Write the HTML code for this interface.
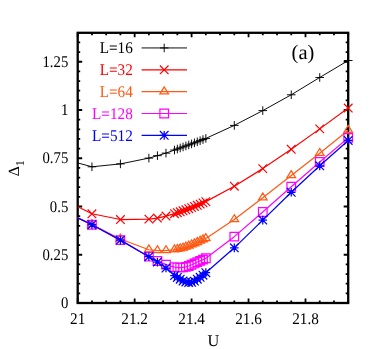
<!DOCTYPE html>
<html><head><meta charset="utf-8"><title>chart</title>
<style>html,body{margin:0;padding:0;background:#fff;}body{width:374px;height:349px;overflow:hidden;font-family:"Liberation Serif",serif;}svg{display:block;will-change:transform}text{text-rendering:geometricPrecision}</style>
</head><body>
<svg width="374" height="349" viewBox="0 0 374 349">
<rect width="374" height="349" fill="#fff"/>
<rect x="77.7" y="32.8" width="270.5" height="270.2" fill="none" stroke="#000" stroke-width="2.3"/>
<path d="M77.70 303.0v-4.5M77.70 32.8v4.5M91.94 303.0v-2.5M91.94 32.8v2.5M106.17 303.0v-2.5M106.17 32.8v2.5M120.41 303.0v-2.5M120.41 32.8v2.5M134.65 303.0v-4.5M134.65 32.8v4.5M148.88 303.0v-2.5M148.88 32.8v2.5M163.12 303.0v-2.5M163.12 32.8v2.5M177.36 303.0v-2.5M177.36 32.8v2.5M191.59 303.0v-4.5M191.59 32.8v4.5M205.83 303.0v-2.5M205.83 32.8v2.5M220.07 303.0v-2.5M220.07 32.8v2.5M234.31 303.0v-2.5M234.31 32.8v2.5M248.54 303.0v-4.5M248.54 32.8v4.5M262.78 303.0v-2.5M262.78 32.8v2.5M277.02 303.0v-2.5M277.02 32.8v2.5M291.25 303.0v-2.5M291.25 32.8v2.5M305.49 303.0v-4.5M305.49 32.8v4.5M319.73 303.0v-2.5M319.73 32.8v2.5M333.96 303.0v-2.5M333.96 32.8v2.5M348.20 303.0v-2.5M348.20 32.8v2.5M77.7 303.00h4.5M348.2 303.00h-4.5M77.7 293.35h2.5M348.2 293.35h-2.5M77.7 283.70h2.5M348.2 283.70h-2.5M77.7 274.05h2.5M348.2 274.05h-2.5M77.7 264.40h2.5M348.2 264.40h-2.5M77.7 254.75h4.5M348.2 254.75h-4.5M77.7 245.10h2.5M348.2 245.10h-2.5M77.7 235.45h2.5M348.2 235.45h-2.5M77.7 225.80h2.5M348.2 225.80h-2.5M77.7 216.15h2.5M348.2 216.15h-2.5M77.7 206.50h4.5M348.2 206.50h-4.5M77.7 196.85h2.5M348.2 196.85h-2.5M77.7 187.20h2.5M348.2 187.20h-2.5M77.7 177.55h2.5M348.2 177.55h-2.5M77.7 167.90h2.5M348.2 167.90h-2.5M77.7 158.25h4.5M348.2 158.25h-4.5M77.7 148.60h2.5M348.2 148.60h-2.5M77.7 138.95h2.5M348.2 138.95h-2.5M77.7 129.30h2.5M348.2 129.30h-2.5M77.7 119.65h2.5M348.2 119.65h-2.5M77.7 110.00h4.5M348.2 110.00h-4.5M77.7 100.35h2.5M348.2 100.35h-2.5M77.7 90.70h2.5M348.2 90.70h-2.5M77.7 81.05h2.5M348.2 81.05h-2.5M77.7 71.40h2.5M348.2 71.40h-2.5M77.7 61.75h4.5M348.2 61.75h-4.5M77.7 52.10h2.5M348.2 52.10h-2.5M77.7 42.45h2.5M348.2 42.45h-2.5M77.7 32.80h2.5M348.2 32.80h-2.5" stroke="#000" stroke-width="1.8" fill="none"/>
<clipPath id="c"><rect x="77.7" y="32.8" width="270.5" height="270.2"/></clipPath>
<g font-family="Liberation Serif, serif" font-size="15" fill="#000">
<text transform="translate(77.70 324.30) scale(0.935 1)" text-anchor="middle" font-size="16.3" fill="#000">21</text>
<text transform="translate(134.65 324.30) scale(0.935 1)" text-anchor="middle" font-size="16.3" fill="#000">21.2</text>
<text transform="translate(191.59 324.30) scale(0.935 1)" text-anchor="middle" font-size="16.3" fill="#000">21.4</text>
<text transform="translate(248.54 324.30) scale(0.935 1)" text-anchor="middle" font-size="16.3" fill="#000">21.6</text>
<text transform="translate(305.49 324.30) scale(0.935 1)" text-anchor="middle" font-size="16.3" fill="#000">21.8</text>
<text transform="translate(68.30 308.20) scale(0.905 1)" text-anchor="end" font-size="16.3" fill="#000">0</text>
<text transform="translate(68.30 259.95) scale(0.905 1)" text-anchor="end" font-size="16.3" fill="#000">0.25</text>
<text transform="translate(68.30 211.70) scale(0.905 1)" text-anchor="end" font-size="16.3" fill="#000">0.5</text>
<text transform="translate(68.30 163.45) scale(0.905 1)" text-anchor="end" font-size="16.3" fill="#000">0.75</text>
<text transform="translate(68.30 115.20) scale(0.905 1)" text-anchor="end" font-size="16.3" fill="#000">1</text>
<text transform="translate(68.30 66.95) scale(0.905 1)" text-anchor="end" font-size="16.3" fill="#000">1.25</text>
<text transform="translate(213.30 346.30) scale(1.0 1)" text-anchor="middle" font-size="16.3" fill="#000">U</text>
<text x="303" y="59.1" text-anchor="middle" font-size="20.5">(a)</text>
<text transform="translate(18.9 176.2) rotate(-90)" font-size="15.5">Δ<tspan dy="5" font-size="12">1</tspan></text>
</g>
<g font-family="Liberation Serif, serif"><text transform="translate(132.80 53.15) scale(0.935 1)" text-anchor="end" font-size="16.3" fill="#000000">L=16</text></g>
<path d="M141.6 47.95H187" stroke="#000000" stroke-width="0.95" fill="none"/>
<path d="M159.90 47.95H168.50M164.20 43.65V52.25" stroke="#000000" stroke-width="0.95" fill="none"/>
<g font-family="Liberation Serif, serif"><text transform="translate(132.80 75.00) scale(0.935 1)" text-anchor="end" font-size="16.3" fill="#ff0000">L=32</text></g>
<path d="M141.6 69.80H187" stroke="#ff0000" stroke-width="1.2" fill="none"/>
<path d="M159.90 65.50L168.50 74.10M159.90 74.10L168.50 65.50" stroke="#ff0000" stroke-width="1.2" fill="none"/>
<g font-family="Liberation Serif, serif"><text transform="translate(132.80 96.85) scale(0.935 1)" text-anchor="end" font-size="16.3" fill="#ff5a14">L=64</text></g>
<path d="M141.6 91.65H187" stroke="#ff5a14" stroke-width="1.25" fill="none"/>
<path d="M164.20 86.83L159.90 93.80H168.50Z" stroke="#ff5a14" stroke-width="1.25" fill="none"/>
<g font-family="Liberation Serif, serif"><text transform="translate(132.80 118.70) scale(0.935 1)" text-anchor="end" font-size="16.3" fill="#ff00ff">L=128</text></g>
<path d="M141.6 113.50H187" stroke="#ff00ff" stroke-width="1.2" fill="none"/>
<path d="M159.90 109.20H168.50V117.80H159.90Z" stroke="#ff00ff" stroke-width="1.2" fill="none"/>
<g font-family="Liberation Serif, serif"><text transform="translate(132.80 140.55) scale(0.935 1)" text-anchor="end" font-size="16.3" fill="#0000ff">L=512</text></g>
<path d="M141.6 135.35H187" stroke="#0000ff" stroke-width="1.25" fill="none"/>
<path d="M159.90 135.35H168.50M164.20 131.05V139.65M159.90 131.05L168.50 139.65M159.90 139.65L168.50 131.05" stroke="#0000ff" stroke-width="1.25" fill="none"/>
<path d="M63.46 159.09L91.94 166.79L120.41 163.90L148.88 158.12L157.43 155.66L165.97 153.12L174.51 150.04L177.36 149.01L180.21 147.98L183.05 146.96L185.90 145.94L188.75 144.92L191.59 143.89L194.44 142.84L197.29 141.77L200.14 140.68L202.98 139.56L205.83 138.41L234.31 125.40L262.78 110.58L291.25 94.79L319.73 77.47L348.20 60.53" stroke="#000000" stroke-width="0.95" fill="none" stroke-linejoin="round" clip-path="url(#c)"/>
<path d="M87.64 166.79H96.24M91.94 162.49V171.09M116.11 163.90H124.71M120.41 159.60V168.20M144.58 158.12H153.18M148.88 153.82V162.43M153.13 155.66H161.73M157.43 151.36V159.96M161.67 153.12H170.27M165.97 148.82V157.42M170.21 150.04H178.81M174.51 145.74V154.34M173.06 149.01H181.66M177.36 144.71V153.31M175.91 147.98H184.51M180.21 143.68V152.28M178.75 146.96H187.35M183.05 142.66V151.26M181.60 145.94H190.20M185.90 141.64V150.24M184.45 144.92H193.05M188.75 140.62V149.22M187.29 143.89H195.89M191.59 139.59V148.19M190.14 142.84H198.74M194.44 138.54V147.14M192.99 141.77H201.59M197.29 137.47V146.07M195.84 140.68H204.44M200.14 136.38V144.98M198.68 139.56H207.28M202.98 135.26V143.86M201.53 138.41H210.13M205.83 134.11V142.71M230.01 125.40H238.61M234.31 121.10V129.70M258.48 110.58H267.08M262.78 106.28V114.88M286.95 94.79H295.55M291.25 90.49V99.09M315.43 77.47H324.03M319.73 73.17V81.77M343.90 60.53H352.50M348.20 56.23V64.83" stroke="#000000" stroke-width="0.95" fill="none"/>
<path d="M63.46 199.70L91.94 213.76L120.41 219.53L148.88 219.15L157.43 218.07L165.97 216.07L174.51 213.66L177.36 212.74L180.21 211.79L183.05 210.80L185.90 209.78L188.75 208.72L191.59 207.62L194.44 206.49L197.29 205.33L200.14 204.13L202.98 202.90L205.83 201.63L234.31 186.23L262.78 168.62L291.25 149.27L319.73 128.87L348.20 108.07" stroke="#ff0000" stroke-width="1.2" fill="none" stroke-linejoin="round" clip-path="url(#c)"/>
<path d="M87.64 209.46L96.24 218.06M87.64 218.06L96.24 209.46M116.11 215.23L124.71 223.83M116.11 223.83L124.71 215.23M144.58 214.85L153.18 223.45M144.58 223.45L153.18 214.85M153.13 213.77L161.73 222.37M153.13 222.37L161.73 213.77M161.67 211.77L170.27 220.37M161.67 220.37L170.27 211.77M170.21 209.36L178.81 217.96M170.21 217.96L178.81 209.36M173.06 208.44L181.66 217.04M173.06 217.04L181.66 208.44M175.91 207.49L184.51 216.09M175.91 216.09L184.51 207.49M178.75 206.50L187.35 215.10M178.75 215.10L187.35 206.50M181.60 205.48L190.20 214.08M181.60 214.08L190.20 205.48M184.45 204.42L193.05 213.02M184.45 213.02L193.05 204.42M187.29 203.32L195.89 211.92M187.29 211.92L195.89 203.32M190.14 202.19L198.74 210.79M190.14 210.79L198.74 202.19M192.99 201.03L201.59 209.63M192.99 209.63L201.59 201.03M195.84 199.83L204.44 208.43M195.84 208.43L204.44 199.83M198.68 198.60L207.28 207.20M198.68 207.20L207.28 198.60M201.53 197.33L210.13 205.93M201.53 205.93L210.13 197.33M230.01 181.93L238.61 190.53M230.01 190.53L238.61 181.93M258.48 164.32L267.08 172.92M258.48 172.92L267.08 164.32M286.95 144.97L295.55 153.57M286.95 153.57L295.55 144.97M315.43 124.57L324.03 133.17M315.43 133.17L324.03 124.57M343.90 103.77L352.50 112.37M343.90 112.37L352.50 103.77" stroke="#ff0000" stroke-width="1.2" fill="none"/>
<path d="M63.46 211.06L91.94 224.54L120.41 238.97L148.88 249.75L157.43 250.53L165.97 250.53L174.51 249.75L177.36 249.30L180.21 248.67L183.05 247.89L185.90 246.99L188.75 245.96L191.59 244.84L194.44 243.64L197.29 242.38L200.14 241.07L202.98 239.74L205.83 238.40L234.31 219.53L262.78 197.78L291.25 175.45L319.73 153.31L348.20 130.21" stroke="#ff5a14" stroke-width="1.25" fill="none" stroke-linejoin="round" clip-path="url(#c)"/>
<path d="M91.94 219.72L87.64 226.69H96.24ZM120.41 234.16L116.11 241.12H124.71ZM148.88 244.94L144.58 251.91H153.18ZM157.43 245.71L153.13 252.68H161.73ZM165.97 245.71L161.67 252.68H170.27ZM174.51 244.94L170.21 251.91H178.81ZM177.36 244.48L173.06 251.45H181.66ZM180.21 243.85L175.91 250.82H184.51ZM183.05 243.08L178.75 250.04H187.35ZM185.90 242.17L181.60 249.14H190.20ZM188.75 241.15L184.45 248.11H193.05ZM191.59 240.03L187.29 246.99H195.89ZM194.44 238.83L190.14 245.79H198.74ZM197.29 237.56L192.99 244.53H201.59ZM200.14 236.26L195.84 243.22H204.44ZM202.98 234.92L198.68 241.89H207.28ZM205.83 233.58L201.53 240.55H210.13ZM234.31 214.72L230.01 221.68H238.61ZM262.78 192.96L258.48 199.93H267.08ZM291.25 170.63L286.95 177.60H295.55ZM319.73 148.50L315.43 155.46H324.03ZM348.20 125.40L343.90 132.36H352.50Z" stroke="#ff5a14" stroke-width="1.25" fill="none"/>
<path d="M63.46 211.06L91.94 224.73L120.41 240.13L148.88 256.69L157.43 261.02L165.97 264.58L174.51 267.08L177.36 267.47L180.21 267.66L183.05 267.41L185.90 266.89L188.75 265.98L191.59 264.77L194.44 263.46L197.29 262.07L200.14 260.83L202.98 259.61L205.83 258.23L234.31 236.66L262.78 212.03L291.25 186.71L319.73 161.97L348.20 137.91" stroke="#ff00ff" stroke-width="1.2" fill="none" stroke-linejoin="round" clip-path="url(#c)"/>
<path d="M87.64 220.43H96.24V229.03H87.64ZM116.11 235.83H124.71V244.43H116.11ZM144.58 252.38H153.18V260.99H144.58ZM153.13 256.72H161.73V265.32H153.13ZM161.67 260.28H170.27V268.88H161.67ZM170.21 262.78H178.81V271.38H170.21ZM173.06 263.17H181.66V271.77H173.06ZM175.91 263.36H184.51V271.96H175.91ZM178.75 263.11H187.35V271.71H178.75ZM181.60 262.59H190.20V271.19H181.60ZM184.45 261.68H193.05V270.28H184.45ZM187.29 260.47H195.89V269.07H187.29ZM190.14 259.16H198.74V267.76H190.14ZM192.99 257.77H201.59V266.38H192.99ZM195.84 256.53H204.44V265.13H195.84ZM198.68 255.31H207.28V263.91H198.68ZM201.53 253.93H210.13V262.53H201.53ZM230.01 232.36H238.61V240.97H230.01ZM258.48 207.72H267.08V216.33H258.48ZM286.95 182.41H295.55V191.01H286.95ZM315.43 157.67H324.03V166.28H315.43ZM343.90 133.61H352.50V142.21H343.90Z" stroke="#ff00ff" stroke-width="1.2" fill="none"/>
<path d="M63.46 211.06L91.94 224.73L120.41 240.13L148.88 256.69L157.43 262.07L165.97 268.04L174.51 275.55L177.36 277.48L180.21 279.21L183.05 280.94L185.90 281.90L188.75 282.48L191.59 282.29L194.44 281.13L197.29 279.21L200.14 277.28L202.98 275.17L205.83 272.66L234.31 247.83L262.78 220.11L291.25 192.29L319.73 165.83L348.20 140.41" stroke="#0000ff" stroke-width="1.25" fill="none" stroke-linejoin="round" clip-path="url(#c)"/>
<path d="M87.64 224.73H96.24M91.94 220.43V229.03M87.64 220.43L96.24 229.03M87.64 229.03L96.24 220.43M116.11 240.13H124.71M120.41 235.83V244.43M116.11 235.83L124.71 244.43M116.11 244.43L124.71 235.83M144.58 256.69H153.18M148.88 252.38V260.99M144.58 252.38L153.18 260.99M144.58 260.99L153.18 252.38M153.13 262.07H161.73M157.43 257.77V266.38M153.13 257.77L161.73 266.38M153.13 266.38L161.73 257.77M161.67 268.04H170.27M165.97 263.74V272.34M161.67 263.74L170.27 272.34M161.67 272.34L170.27 263.74M170.21 275.55H178.81M174.51 271.25V279.85M170.21 271.25L178.81 279.85M170.21 279.85L178.81 271.25M173.06 277.48H181.66M177.36 273.18V281.78M173.06 273.18L181.66 281.78M173.06 281.78L181.66 273.18M175.91 279.21H184.51M180.21 274.91V283.51M175.91 274.91L184.51 283.51M175.91 283.51L184.51 274.91M178.75 280.94H187.35M183.05 276.64V285.24M178.75 276.64L187.35 285.24M178.75 285.24L187.35 276.64M181.60 281.90H190.20M185.90 277.60V286.20M181.60 277.60L190.20 286.20M181.60 286.20L190.20 277.60M184.45 282.48H193.05M188.75 278.18V286.78M184.45 278.18L193.05 286.78M184.45 286.78L193.05 278.18M187.29 282.29H195.89M191.59 277.99V286.59M187.29 277.99L195.89 286.59M187.29 286.59L195.89 277.99M190.14 281.13H198.74M194.44 276.83V285.43M190.14 276.83L198.74 285.43M190.14 285.43L198.74 276.83M192.99 279.21H201.59M197.29 274.91V283.51M192.99 274.91L201.59 283.51M192.99 283.51L201.59 274.91M195.84 277.28H204.44M200.14 272.98V281.58M195.84 272.98L204.44 281.58M195.84 281.58L204.44 272.98M198.68 275.17H207.28M202.98 270.87V279.47M198.68 270.87L207.28 279.47M198.68 279.47L207.28 270.87M201.53 272.66H210.13M205.83 268.36V276.96M201.53 268.36L210.13 276.96M201.53 276.96L210.13 268.36M230.01 247.83H238.61M234.31 243.53V252.13M230.01 243.53L238.61 252.13M230.01 252.13L238.61 243.53M258.48 220.11H267.08M262.78 215.81V224.41M258.48 215.81L267.08 224.41M258.48 224.41L267.08 215.81M286.95 192.29H295.55M291.25 187.99V196.59M286.95 187.99L295.55 196.59M286.95 196.59L295.55 187.99M315.43 165.83H324.03M319.73 161.53V170.13M315.43 161.53L324.03 170.13M315.43 170.13L324.03 161.53M343.90 140.41H352.50M348.20 136.11V144.72M343.90 136.11L352.50 144.72M343.90 144.72L352.50 136.11" stroke="#0000ff" stroke-width="1.25" fill="none"/>
</svg>
</body></html>
